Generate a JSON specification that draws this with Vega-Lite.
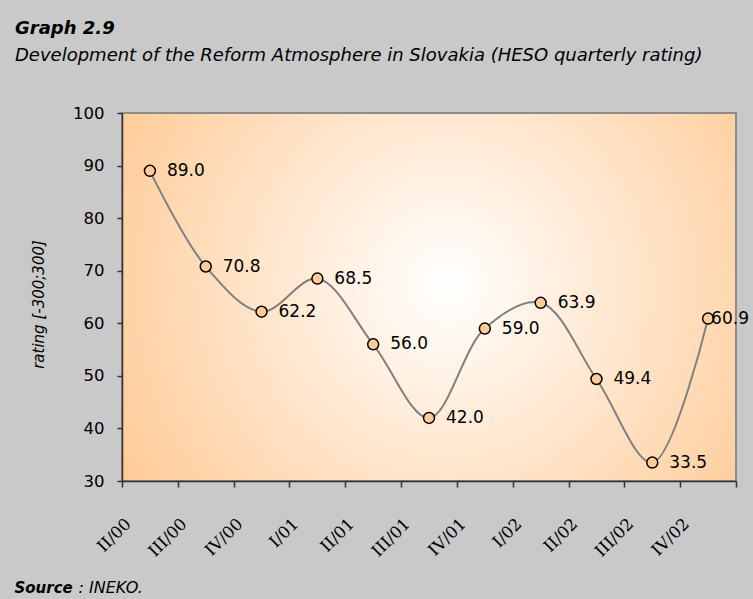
{
  "$schema": "https://vega.github.io/schema/vega-lite/v6.json",
  "width": 614,
  "height": 368,
  "autosize": {"type": "none"},
  "padding": {"left": 122, "top": 113, "right": 17, "bottom": 118},
  "background": "#c9c9c9",
  "title": {
    "text": "Graph 2.9",
    "subtitle": "Development of the Reform Atmosphere in Slovakia (HESO quarterly rating)",
    "anchor": "start",
    "frame": "group",
    "dx": -107,
    "offset": 40,
    "font": "DejaVu Sans",
    "fontSize": 18,
    "fontStyle": "italic",
    "fontWeight": "bold",
    "color": "#000000",
    "subtitleFont": "DejaVu Sans",
    "subtitleFontSize": 18,
    "subtitleFontStyle": "italic",
    "subtitleColor": "#000000",
    "subtitlePadding": 9
  },
  "config": {
    "view": {
      "fill": {
        "gradient": "radial",
        "x1": 0.53, "y1": 0.48, "r1": 0,
        "x2": 0.53, "y2": 0.48, "r2": 0.6,
        "stops": [
          {"offset": 0, "color": "#ffffff"},
          {"offset": 1, "color": "#ffcc99"}
        ]
      },
      "stroke": "#8c8c8c",
      "strokeWidth": 2
    }
  },
  "data": {
    "values": [
      {"q": "II/00", "v": 89.0},
      {"q": "III/00", "v": 70.8},
      {"q": "IV/00", "v": 62.2},
      {"q": "I/01", "v": 68.5},
      {"q": "II/01", "v": 56.0},
      {"q": "III/01", "v": 42.0},
      {"q": "IV/01", "v": 59.0},
      {"q": "I/02", "v": 63.9},
      {"q": "II/02", "v": 49.4},
      {"q": "III/02", "v": 33.5},
      {"q": "IV/02", "v": 60.9}
    ]
  },
  "layer": [
    {
      "mark": {"type": "line", "interpolate": "catmull-rom", "color": "#808080", "strokeWidth": 2},
      "encoding": {
        "x": {
          "field": "q", "type": "ordinal", "sort": null,
          "scale": {"type": "band", "paddingInner": 0, "paddingOuter": 0},
          "axis": {
            "orient": "bottom",
            "title": "Source",
            "titleFont": "DejaVu Sans",
            "titleFontSize": 15,
            "titleFontWeight": "bold",
            "titleFontStyle": "italic",
            "titleColor": "#000000",
            "titleAnchor": "start",
            "titleAlign": "left",
            "titleBaseline": "middle",
            "titleX": -108,
            "titleY": 106,
            "labelAngle": -45,
            "labelAlign": "right",
            "labelBaseline": "middle",
            "labelOffset": -22,
            "labelPadding": 34,
            "labelFont": "DejaVu Serif",
            "labelFontSize": 16.5,
            "labelColor": "#000000",
            "tickBand": "extent",
            "tickSize": 6,
            "tickColor": "#333333",
            "tickWidth": 1.5,
            "domainColor": "#333333",
            "domainWidth": 1.5,
            "grid": false
          }
        },
        "y": {
          "field": "v", "type": "quantitative",
          "scale": {"domain": [30, 100], "nice": false, "zero": false},
          "axis": {
            "values": [30, 40, 50, 60, 70, 80, 90, 100],
            "title": "rating [-300;300]",
            "titleFont": "DejaVu Sans",
            "titleFontSize": 15,
            "titleFontWeight": "normal",
            "titleFontStyle": "italic",
            "titleColor": "#000000",
            "titleAlign": "center",
            "titleBaseline": "middle",
            "titleX": -84,
            "titleY": 191,
            "labelFont": "DejaVu Sans",
            "labelFontSize": 16.5,
            "labelColor": "#000000",
            "labelPadding": 13,
            "tickSize": 5,
            "tickColor": "#333333",
            "tickWidth": 1.5,
            "domainColor": "#333333",
            "domainWidth": 1.5,
            "grid": false
          }
        }
      }
    },
    {
      "mark": {"type": "point", "shape": "circle", "filled": true, "fill": "#ffcc99", "stroke": "#000000", "strokeWidth": 1.5, "size": 120, "opacity": 1},
      "encoding": {
        "x": {
          "field": "q", "type": "ordinal", "sort": null,
          "scale": {"type": "band", "paddingInner": 0, "paddingOuter": 0},
          "axis": {
            "orient": "bottom",
            "title": ": INEKO.",
            "titleFont": "DejaVu Sans",
            "titleFontSize": 16,
            "titleFontWeight": "normal",
            "titleFontStyle": "italic",
            "titleColor": "#000000",
            "titleAnchor": "start",
            "titleAlign": "left",
            "titleBaseline": "middle",
            "titleX": -44,
            "titleY": 106,
            "labels": false,
            "ticks": false,
            "domain": false,
            "grid": false
          }
        },
        "y": {"field": "v", "type": "quantitative"}
      }
    },
    {
      "transform": [{"filter": "datum.q != 'IV/02'"}],
      "mark": {"type": "text", "align": "left", "baseline": "middle", "dx": 17, "font": "DejaVu Sans", "fontSize": 17, "color": "#000000"},
      "encoding": {
        "x": {"field": "q", "type": "ordinal", "sort": null, "axis": null},
        "y": {"field": "v", "type": "quantitative"},
        "text": {"field": "v", "type": "quantitative", "format": ".1f"}
      }
    },
    {
      "transform": [{"filter": "datum.q == 'IV/02'"}],
      "mark": {"type": "text", "align": "left", "baseline": "middle", "dx": 3, "font": "DejaVu Sans", "fontSize": 17, "color": "#000000"},
      "encoding": {
        "x": {"field": "q", "type": "ordinal", "sort": null, "axis": null},
        "y": {"field": "v", "type": "quantitative"},
        "text": {"field": "v", "type": "quantitative", "format": ".1f"}
      }
    }
  ],
  "resolve": {"axis": {"x": "independent"}}
}
